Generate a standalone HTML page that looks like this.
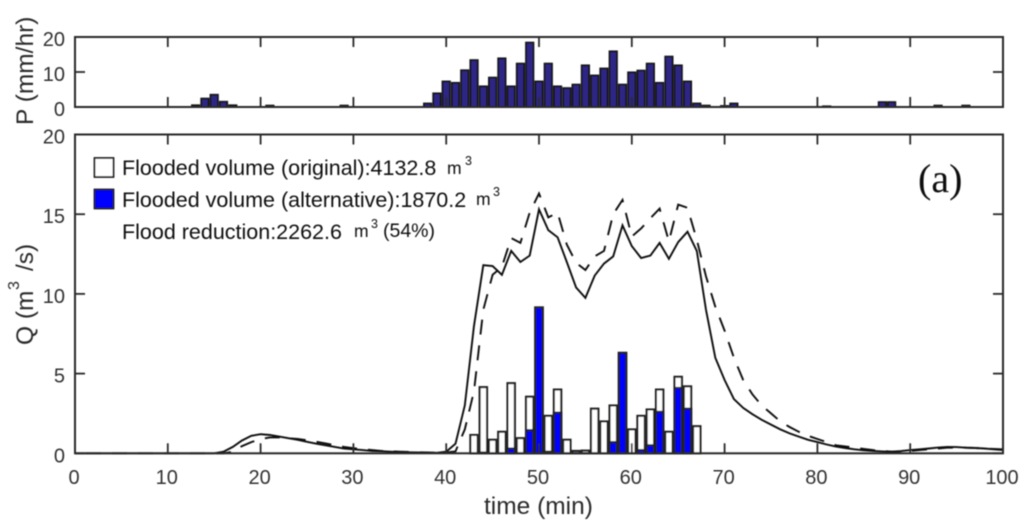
<!DOCTYPE html>
<html>
<head>
<meta charset="utf-8">
<title>Rainfall and flood discharge chart</title>
<style>
html,body{margin:0;padding:0;background:#fff;width:1024px;height:525px;overflow:hidden}
svg{display:block;font-family:"Liberation Sans",Arial,sans-serif}
.tick{font-size:20px;fill:#333}
.title{font-size:24.5px;fill:#2b2b2b}
.legend{font-size:21.5px;fill:#111}
.unit{font-size:17.5px;fill:#111}
.sup{font-size:12.5px;fill:#111}
</style>
</head>
<body>
<svg id="chart" width="1024" height="525" viewBox="0 0 1024 525" xmlns="http://www.w3.org/2000/svg">
  <defs><filter id="soft" x="0" y="0" width="100%" height="100%"><feGaussianBlur stdDeviation="0.5"/></filter></defs>
  <g id="root" filter="url(#soft)">
    <g id="rainPanel"></g>
    <g id="flowPanel"></g>

    <text class="title" transform="translate(33,125) rotate(-90)">P (mm/hr)</text>
    <text class="title" transform="translate(33,345) rotate(-90)">Q (m</text>
    <text class="title" style="font-size:16px" transform="translate(19,290) rotate(-90)">3</text>
    <text class="title" transform="translate(33,271) rotate(-90)">/s)</text>
    <text class="title" x="484" y="514">time (min)</text>

    <g>
      <rect x="94.5" y="158" width="19" height="19" fill="#fff" stroke="#222" stroke-width="1.8"/>
      <text class="legend" x="122" y="175">Flooded volume (original):4132.8</text>
      <text class="unit" x="447" y="174">m</text>
      <text class="sup" x="465" y="165">3</text>
      <rect x="94.5" y="189.5" width="19" height="19" fill="#0000ff" stroke="#222" stroke-width="1.8"/>
      <text class="legend" x="122" y="207">Flooded volume (alternative):1870.2</text>
      <text class="unit" x="476" y="205">m</text>
      <text class="sup" x="493" y="196">3</text>
      <text class="legend" x="122" y="239">Flood reduction:2262.6</text>
      <text class="unit" x="354" y="237">m</text>
      <text class="sup" x="371" y="228">3</text>
      <text class="unit" style="font-size:19.5px" x="383" y="237">(54%)</text>
    </g>
    <text x="918" y="192" style="font-family:'Liberation Serif',serif;font-size:40px;fill:#111">(a)</text>
  </g>
</svg>
<script>
const xTicks = [0,10,20,30,40,50,60,70,80,90,100];
const rainTicks = [0,10,20];
const flowTicks = [0,5,10,15,20];

const rainTimes = [13,14,15,16,17,21,29,38,39,40,41,42,43,44,45,46,47,48,49,50,51,52,53,54,55,56,57,58,59,60,61,62,63,64,65,66,67,68,70,71,81,87,88,93,96];
const rainValues = [0.5,2.4,3.5,1.5,0.5,0.4,0.4,1,3.9,7.3,6.9,10.5,13.4,5.9,8.4,13.9,5.9,12.4,18.4,7.3,12.4,5.9,5.4,6.4,11.9,9,11,15.9,6.4,9.9,10.4,12.4,6.9,14.4,11.9,7.3,1,0.4,0.3,1,0.2,1.4,1.4,0.4,0.4];

const floodTimes = [43,44,45,46,47,48,49,50,51,52,53,54,55,56,57,58,59,60,61,62,63,64,65,66,67];
const floodOriginal = [1.15,4.15,0.85,1.35,4.4,0.95,3.55,9.15,2.35,4.0,0.85,0.15,0.17,2.8,2.0,3.0,6.3,1.5,2.35,2.75,4.0,1.35,4.8,4.2,1.7];
const floodAlternative = [0,0.05,0,0,0.3,0,1.45,9.15,0.1,2.55,0,0,0,0,0,0.7,6.3,0,0.2,0.5,2.6,0,4.1,2.8,0];

const flowTimes = [0,15,16,17,18,19,20,21,22,23,24,25,26,27,28,29,30,31,32,33,34,35,36,37,38,39,40,41,42,43,44,45,46,47,48,49,50,51,52,53,54,55,56,57,58,59,60,61,62,63,64,65,66,67,68,69,70,71,72,73,74,75,76,77,78,79,80,81,82,83,84,85,86,87,88,89,90,91,92,93,94,95,96,97,98,99,100];
const flowOriginal = [0,0,0.1,0.4,0.8,1.1,1.2,1.15,1.05,0.95,0.85,0.72,0.6,0.5,0.4,0.3,0.25,0.2,0.15,0.13,0.1,0.08,0.06,0.05,0.03,0.03,0.1,0.6,3.0,8,11.8,11.75,11.2,12.7,12.0,12.4,15.3,14.0,13.55,12.0,10.4,9.75,11.15,11.9,12.35,14.3,13.0,12.25,12.4,13.2,12.2,13.25,13.9,12.7,9,6.0,4.6,3.4,2.85,2.45,2.1,1.8,1.5,1.25,1.05,0.85,0.7,0.55,0.42,0.33,0.25,0.19,0.15,0.12,0.1,0.14,0.2,0.25,0.3,0.36,0.4,0.39,0.35,0.33,0.3,0.25,0.2];
const flowAlternative = [0,0,0,0.1,0.45,0.7,0.9,1.0,1.0,0.95,0.9,0.82,0.72,0.62,0.5,0.4,0.32,0.25,0.2,0.15,0.12,0.1,0.08,0.06,0.05,0.04,0.05,0.12,1.5,3.9,9.0,11.2,11.7,13.5,13.2,15.1,16.3,14.8,15.1,13.1,11.95,11.5,12.35,12.7,15,15.9,13.6,14.1,14.75,15.35,13.3,15.6,15.4,13.4,11.1,9.2,7.7,6.0,4.6,3.7,3.0,2.5,2.0,1.65,1.35,1.1,0.9,0.7,0.5,0.43,0.35,0.27,0.2,0.15,0.1,0.12,0.15,0.2,0.25,0.3,0.35,0.36,0.35,0.33,0.3,0.27,0.25];

const NS = 'http://www.w3.org/2000/svg';
const AXIS_COLOR = '#2b2b2b';
const xMax = 100;
const plotLeft = 75, plotRight = 1003;
const rainTop = 37, rainBottom = 107, rainMax = 20;
const flowTop = 134.5, flowBottom = 453.3, flowMax = 20;

function xScale(t){ return plotLeft + (plotRight - plotLeft) * t / xMax; }
function rainY(v){ return rainBottom - (rainBottom - rainTop) * v / rainMax; }
function flowY(v){ return flowBottom - (flowBottom - flowTop) * v / flowMax; }
function make(parent, tag, attrs, text){
  const el = document.createElementNS(NS, tag);
  for (const k in attrs) el.setAttribute(k, attrs[k]);
  if (text !== undefined) el.textContent = text;
  parent.appendChild(el);
  return el;
}

function drawAxes(group, top, bottom, yFn, yValues, showXLabels, prefix){
  const frame = make(group, 'rect', {x: plotLeft, y: top, width: plotRight - plotLeft, height: bottom - top, fill: 'none', stroke: AXIS_COLOR, 'stroke-width': 2});
  
  
  xTicks.forEach(function(t){
    const x = xScale(t);
    if (t !== 0 && t !== xMax) {
      const low = make(group, 'line', {x1: x, x2: x, y1: bottom, y2: bottom - 10, stroke: AXIS_COLOR, 'stroke-width': 1.8});
      
      
      const high = make(group, 'line', {x1: x, x2: x, y1: top, y2: top + 10, stroke: AXIS_COLOR, 'stroke-width': 1.8});
      
      
    }
    if (showXLabels) {
      const label = make(group, 'text', {x: x - 1, y: 484, 'text-anchor': 'middle', class: 'tick'}, String(t));
      
      
    }
  });
  yValues.forEach(function(v){
    const y = yFn(v);
    const left = make(group, 'line', {x1: plotLeft, x2: plotLeft + 10, y1: y, y2: y, stroke: AXIS_COLOR, 'stroke-width': 1.8});
    
    
    const right = make(group, 'line', {x1: plotRight, x2: plotRight - 10, y1: y, y2: y, stroke: AXIS_COLOR, 'stroke-width': 1.8});
    
    
    const label = make(group, 'text', {x: 65, y: y + 9, 'text-anchor': 'end', class: 'tick'}, String(v));
    
    
  });
}

function drawRain(group){
  rainTimes.forEach(function(t, i){
    const w = 7.4, y = rainY(rainValues[i]);
    const bar = make(group, 'rect', {x: xScale(t) - w / 2, y: y, width: w, height: rainBottom - y, fill: '#2e2585', stroke: '#151515', 'stroke-width': 1.8});
    
    
  });
}

function drawFlood(group){
  floodTimes.forEach(function(t, i){
    const w = 7.4, y = flowY(floodOriginal[i]);
    const bar = make(group, 'rect', {x: xScale(t) - w / 2, y: y, width: w, height: flowBottom - y, fill: '#fff', stroke: '#222', 'stroke-width': 2.1});
    
    
    if (floodAlternative[i] > 0) {
      const ya = flowY(floodAlternative[i]);
      const alt = make(group, 'rect', {x: xScale(t) - w / 2, y: ya, width: w, height: flowBottom - ya, fill: '#0000ff', stroke: '#222', 'stroke-width': 2.1});
      
      
    }
  });
}

function linePoints(values){
  return flowTimes.map(function(t, i){ return xScale(t).toFixed(1) + ',' + flowY(values[i]).toFixed(1); }).join(' ');
}

const rainGroup = document.getElementById('rainPanel');
const flowGroup = document.getElementById('flowPanel');
drawRain(rainGroup);
drawAxes(rainGroup, rainTop, rainBottom, rainY, rainTicks, false, 'rainfall');
drawFlood(flowGroup);
const solid = make(flowGroup, 'polyline', {points: linePoints(flowOriginal), fill: 'none', stroke: '#111', 'stroke-width': 1.9, 'stroke-linejoin': 'miter'});


const dashed = make(flowGroup, 'polyline', {points: linePoints(flowAlternative), fill: 'none', stroke: '#111', 'stroke-width': 1.9, 'stroke-dasharray': '15 11', 'stroke-dashoffset': '-11'});


drawAxes(flowGroup, flowTop, flowBottom, flowY, flowTicks, true, 'discharge');
</script>
</body>
</html>
